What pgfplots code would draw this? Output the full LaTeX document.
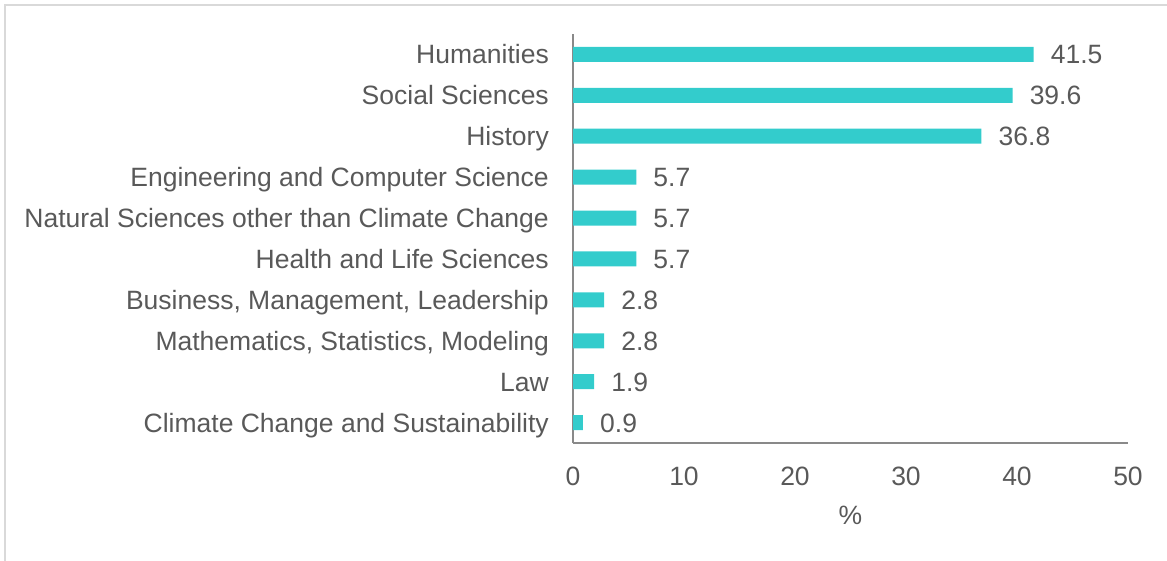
\documentclass[border=0pt]{standalone}
\usepackage{pgfplots}
\pgfplotsset{compat=1.18}
\usepackage{fontspec}
\setmainfont{Liberation Sans}
\definecolor{barc}{HTML}{33CCCC}
\definecolor{txt}{HTML}{595959}
\definecolor{axl}{HTML}{898989}
\definecolor{brd}{HTML}{D9D9D9}
\begin{document}
\begin{tikzpicture}[font=\fontsize{26.5}{31}\selectfont]
\useasboundingbox (0pt,0pt) rectangle (1167pt,560pt);
\draw[brd, line width=2pt] (5pt,-10pt) -- (5pt,555pt) -- (1180pt,555pt);
\begin{axis}[
  at={(573pt,117pt)}, anchor=south west,
  scale only axis, width=555pt, height=409pt,
  xmin=0, xmax=50, ymin=-0.5, ymax=9.5,
  xbar, bar width=15pt, bar shift=0pt,
  axis x line*=bottom, axis y line*=left,
  axis line style={draw=axl, line width=1.5pt},
  major tick length=0pt,
  xtick={0,10,20,30,40,50},
  ytick={0,1,2,3,4,5,6,7,8,9},
  yticklabels={Climate Change and Sustainability, Law, {Mathematics, Statistics, Modeling}, {Business, Management, Leadership}, Health and Life Sciences, Natural Sciences other than Climate Change, Engineering and Computer Science, History, Social Sciences, Humanities},
  /pgf/number format/assume math mode=true,
  tick label style={color=txt, font=\fontsize{26.5}{31}\selectfont},
  yticklabel style={anchor=east, inner sep=0pt, xshift=-24pt, text height=19pt, text depth=0pt},
  xticklabel style={anchor=north, inner sep=0pt, yshift=-24pt},
  xlabel={\%},
  xlabel style={at={(axis description cs:0.5,0)}, anchor=center, yshift=-72pt, color=txt, inner sep=0pt},
  nodes near coords,
  every node near coord/.append style={anchor=west, inner sep=0pt, xshift=17pt, color=txt, font=\fontsize{26.5}{31}\selectfont, text height=19pt, text depth=0pt},
  clip=false,
]
\addplot[fill=barc, draw=none] coordinates {
(0.9,0) (1.9,1) (2.8,2) (2.8,3) (5.7,4) (5.7,5) (5.7,6) (36.8,7) (39.6,8) (41.5,9)};
\end{axis}
\end{tikzpicture}
\end{document}
